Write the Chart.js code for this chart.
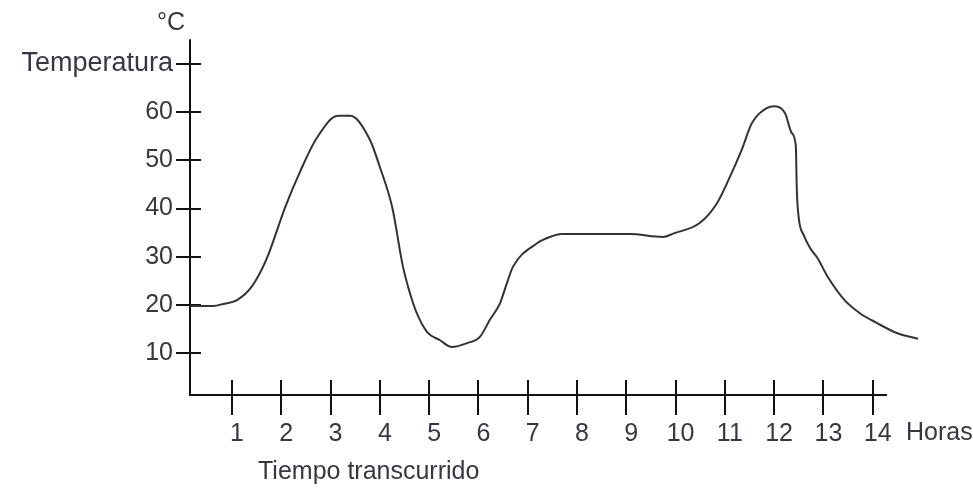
<!DOCTYPE html>
<html>
<head>
<meta charset="utf-8">
<script src="https://cdn.jsdelivr.net/npm/chart.js@4"></script>
<style>
  body { margin: 0; background: #fff; }
  #wrap { width: 973px; height: 490px; position: relative; }
</style>
</head>
<body>
<div id="wrap"><canvas id="TempChart"></canvas></div>
<script>
// hours elapsed vs temperature
const hours = [0.15, 0.62, 0.82, 1.10, 1.40, 1.70, 2.08, 2.38, 2.72, 3.15, 3.40, 3.80, 4.00, 4.25, 4.47, 4.61, 4.75, 4.96,
    5.22, 5.46, 5.77, 6.03, 6.23, 6.44, 6.58, 6.70, 7.19, 7.45, 7.69, 9.07, 9.74, 9.98, 10.49, 10.84, 11.10, 11.34,
    11.55, 11.85, 12.01, 12.22, 12.36, 12.44, 12.46, 12.50, 12.60, 12.75, 12.87, 13.09, 13.43, 13.74, 14.08, 14.49, 14.92];
const temps = [19.8, 19.8, 20.2, 21.0, 23.8, 29.5, 40.3, 47.6, 54.6, 59.2, 59.2, 54.2, 48.6, 40.3, 27.9, 22.5, 18.3, 14.4,
    12.7, 11.3, 12.1, 13.4, 16.9, 20.4, 24.6, 27.9, 32.8, 34.1, 34.7, 34.7, 34.1, 34.9, 37.0, 41.1, 46.5, 52.1,
    57.7, 60.8, 61.2, 59.8, 55.6, 53.0, 44.0, 38.0, 34.5, 31.5, 29.9, 25.8, 21.0, 18.3, 16.3, 14.2, 13.0];

const xTicks = [1, 2, 3, 4, 5, 6, 7, 8, 9, 10, 11, 12, 13, 14];
const yTicks = [10, 20, 30, 40, 50, 60, 70];
const yTopLabel = 'Temperatura';
const unitLabel = '°C';
const xUnitLabel = 'Horas';
const xTitle = 'Tiempo transcurrido';

const xAxisEnd = 14.29;
const yAxisTop = 75.1;

const font = '"Liberation Sans", Arial, sans-serif';
const textColor = '#3a3540';

// hand drawn axes with ticks crossing the lines
const axesPlugin = {
    id: 'axes',
    beforeDatasetsDraw(chart) {
        const ctx = chart.ctx;
        const x = chart.scales.x;
        const y = chart.scales.y;
        const x0 = x.getPixelForValue(x.min);
        const y0 = y.getPixelForValue(y.min);
        ctx.save();
        ctx.strokeStyle = '#111';
        ctx.lineWidth = 2;
        ctx.beginPath();
        ctx.moveTo(x0, y.getPixelForValue(yAxisTop));
        ctx.lineTo(x0, y0);
        ctx.lineTo(x.getPixelForValue(xAxisEnd), y0);
        yTicks.forEach(v => {
            const py = Math.round(y.getPixelForValue(v));
            ctx.moveTo(x0 - 14, py);
            ctx.lineTo(x0 + 11, py);
        });
        xTicks.forEach(v => {
            const px = Math.round(x.getPixelForValue(v));
            ctx.moveTo(px, y0 - 15);
            ctx.lineTo(px, y0 + 20);
        });
        ctx.stroke();
        ctx.restore();
    },
    afterDraw(chart) {
        const ctx = chart.ctx;
        ctx.save();
        ctx.fillStyle = textColor;
        ctx.font = '25px ' + font;
        ctx.textBaseline = 'middle';
        ctx.textAlign = 'left';
        ctx.fillText(unitLabel, 157, 23);
        ctx.fillText(xUnitLabel, 906, 433);
        ctx.fillText(xTitle, 258, 472);
        ctx.restore();
    }
};

new Chart(document.getElementById('TempChart'), {
    type: 'line',
    data: {
        datasets: [{
            data: hours.map((h, i) => ({ x: h, y: temps[i] })),
            borderColor: '#333',
            borderWidth: 2,
            pointRadius: 0,
            cubicInterpolationMode: 'monotone',
            fill: false
        }]
    },
    options: {
        responsive: true,
        maintainAspectRatio: false,
        animation: false,
        layout: { padding: { top: 39, right: 53, left: 0, bottom: 0 } },
        plugins: { legend: { display: false }, tooltip: { enabled: false } },
        scales: {
            x: {
                type: 'linear',
                min: 0.148,
                max: 14.96,
                grid: { display: false, drawTicks: false },
                border: { display: false },
                afterBuildTicks: s => { s.ticks = xTicks.map(v => ({ value: v })); },
                afterFit: s => { s.height = 95; },
                ticks: {
                    autoSkip: false,
                    maxRotation: 0,
                    padding: 24,
                    labelOffset: 5,
                    color: textColor,
                    font: { size: 25, family: font }
                }
            },
            y: {
                type: 'linear',
                min: 1.35,
                max: 75.13,
                grid: { display: false, drawTicks: false },
                border: { display: false },
                afterBuildTicks: s => { s.ticks = yTicks.map(v => ({ value: v })); },
                afterFit: s => { s.width = 190; },
                ticks: {
                    padding: 17,
                    color: textColor,
                    font: ctx => ({ size: ctx.tick && ctx.tick.value === 70 ? 27 : 25, family: font }),
                    callback: v => v === 70 ? yTopLabel : v
                }
            }
        }
    },
    plugins: [axesPlugin]
});
</script>
</body>
</html>
